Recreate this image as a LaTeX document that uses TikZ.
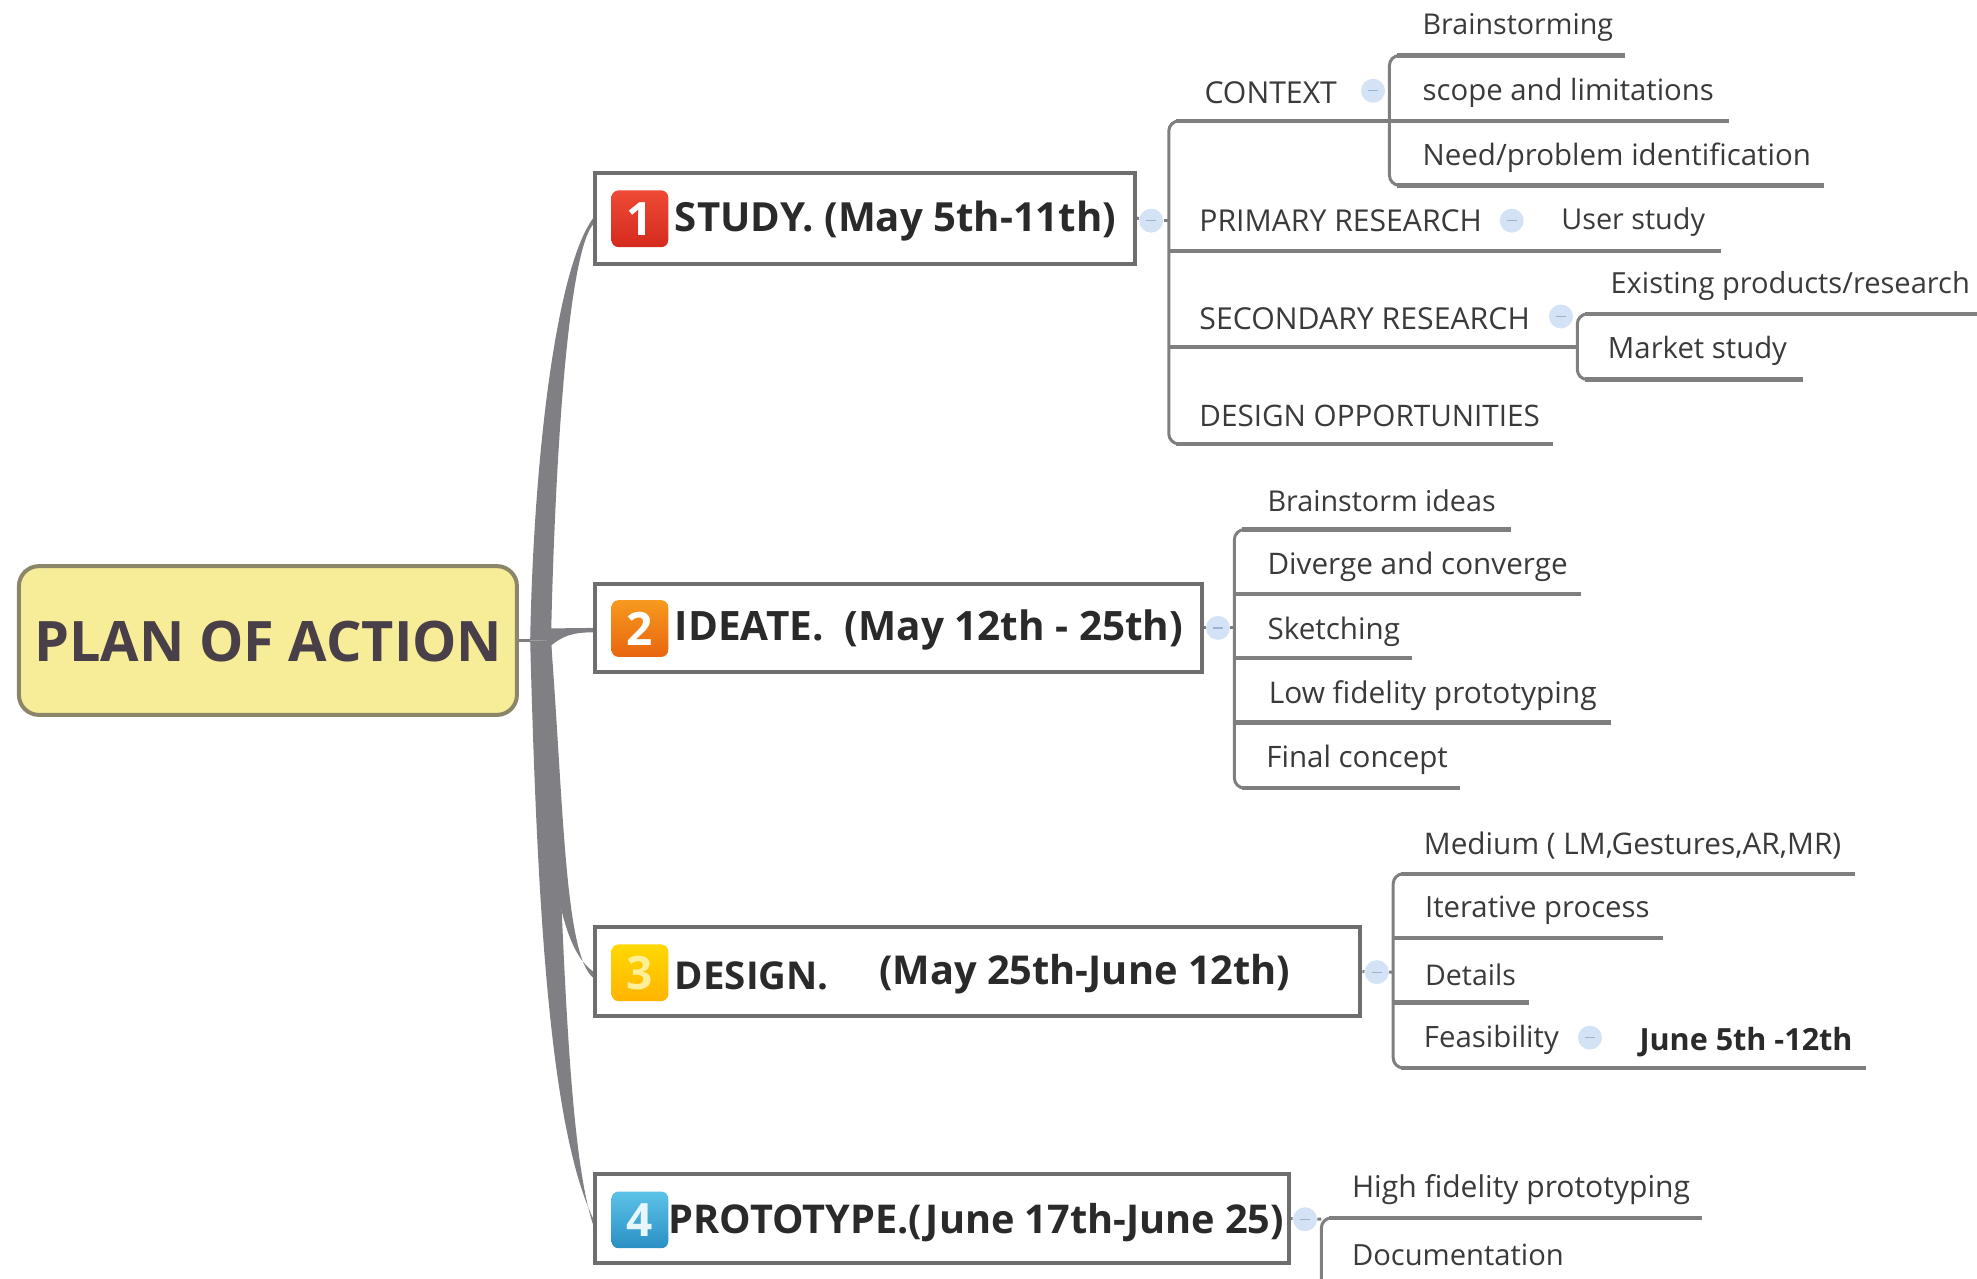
\documentclass[tikz,border=0pt]{standalone}
\usepackage{fontspec}
\usepackage{graphicx}
\setmainfont{Open Sans}
\usetikzlibrary{calc,backgrounds}
\definecolor{linegray}{HTML}{7F7F7F}
\definecolor{boxgray}{HTML}{6E6E6E}
\definecolor{txtgray}{HTML}{3A3A3A}
\definecolor{boldtxt}{HTML}{2A2A2A}
\definecolor{rootfill}{HTML}{F7EC97}
\definecolor{rootedge}{HTML}{8B8569}
\definecolor{rootink}{HTML}{483F48}
\definecolor{dotblue}{HTML}{D3E2F5}
\definecolor{dotminus}{HTML}{9DB4D0}
\definecolor{trunkgray}{HTML}{808084}
\definecolor{redA}{HTML}{EE4A35}\definecolor{redB}{HTML}{D42A1E}
\definecolor{orgA}{HTML}{F79A1E}\definecolor{orgB}{HTML}{E8650F}
\definecolor{yelA}{HTML}{FFD800}\definecolor{yelB}{HTML}{FFB400}
\definecolor{bluA}{HTML}{5CC3E8}\definecolor{bluB}{HTML}{2A8FC4}
\newcommand{\fitto}[2]{\pgfmathsetlengthmacro{\fw}{#1*0.6304pt}\resizebox{\fw}{!}{#2}}
\tikzset{
  rootbox/.style={draw=rootedge,fill=rootfill,line width=2pt,rounded corners=10pt,minimum width=395*0.6304pt,minimum height=118*0.6304pt,inner sep=0},
  stagebox/.style={draw=boxgray,fill=white,line width=2pt,inner sep=0},
  lbl/.style={anchor=base west,inner sep=0,text=txtgray},
  blbl/.style={anchor=base west,inner sep=0,text=boldtxt,font=\bfseries},
  badge/.style={rounded corners=3.5pt,minimum width=45*0.6304pt,minimum height=45*0.6304pt,inner sep=0,text=white,font=\bfseries\fontsize{23}{23}\selectfont},
  collapse/.style={circle,fill=dotblue,minimum size=19*0.6304pt,inner sep=0,
    path picture={\draw[color=dotminus,line width=0.6pt] ($(path picture bounding box.center)+(-4,0)$) -- ($(path picture bounding box.center)+(4,0)$);}},
  bus/.style={draw=linegray,line width=1.5pt,rounded corners=5pt},
  under/.style={draw=linegray,line width=2.2pt},
  trunk/.style={fill=trunkgray,draw=none},
}
\begin{document}
\begin{tikzpicture}[x=0.6304pt,y=-0.6304pt]
\useasboundingbox (0,0) rectangle (1568,1014.4);
% root and stage boxes
\node[rootbox] (root) at (212.5,508) {};
\node[stagebox,minimum width=428*0.6304pt,minimum height=72*0.6304pt] (b1) at (686,173) {};
\node[stagebox,minimum width=481*0.6304pt,minimum height=70*0.6304pt] (b2) at (712.5,498) {};
\node[stagebox,minimum width=607*0.6304pt,minimum height=71*0.6304pt] (b3) at (775.5,770.5) {};
\node[stagebox,minimum width=550*0.6304pt,minimum height=71*0.6304pt] (b4) at (747,966.5) {};
% trunk branches
\coordinate (trL) at (420.5,508);
\coordinate (trM) at (430,508);
\coordinate (trR) at (437,508);
\begin{scope}[on background layer]
\fill[trunk] (trL) .. controls (423,370) and (440,215) .. (b1.west) -- ($(b1.west)+(0,5)$) .. controls (450,202) and (440,370) .. (trR) -- cycle;
\fill[trunk] (trM) .. controls (432,640) and (436,746) .. (b3.west) -- ($(b3.west)+(0,5)$) .. controls (448,757) and (447,640) .. (trR) -- cycle;
\fill[trunk] (trL) .. controls (426,720) and (436,893) .. (b4.west) -- ($(b4.west)+(0,5)$) .. controls (449,907) and (446,720) .. (trR) -- cycle;
\fill[trunk] (430,498.5) -- (b2.west) -- ($(b2.west)+(0,3.5)$) .. controls (455,501.5) and (446,504) .. (436,513) -- cycle;
\draw[draw=linegray,line width=1.4pt] (root.east) -- (trL);
\end{scope}
% root label
\node[anchor=base west,inner sep=0,text=rootink,font=\bfseries] (rootlbl) at (27,525) {\fitto{371}{PLAN OF ACTION}};
% badges
\node[badge,top color=redA,bottom color=redB] (i1) at (507.5,173.5) {1};
\node[badge,top color=orgA,bottom color=orgB] (i2) at (507.5,498.5) {2};
\node[badge,top color=yelA,bottom color=yelB,text=yelA!40!white] (i3) at (507.5,771.5) {3};
\node[badge,top color=bluA,bottom color=bluB,text=white!85!bluA] (i4) at (507.5,967.5) {4};
% stage labels
\node[blbl] (s1) at (535,184) {\fitto{350}{STUDY. (May 5th-11th)}};
\node[blbl] (s2) at (535,508) {\fitto{403}{IDEATE.\ \ (May 12th - 25th)}};
\node[blbl] (s3a) at (535,785) {\fitto{122}{DESIGN.}};
\node[blbl] (s3b) at (697,781) {\fitto{326}{(May 25th-June 12th)}};
\node[blbl] (s4) at (530,978) {\fitto{488}{PROTOTYPE.(June 17th-June 25)}};
% collapse dots
\node[collapse] (c1) at (913,175) {};
\node[collapse] (c2) at (966,498) {};
\node[collapse] (c3) at (1092,771) {};
\node[collapse] (c4) at (1035,967) {};
\node[collapse] (c11) at (1089,72) {};
\node[collapse] (c12) at (1199,175) {};
\node[collapse] (c13) at (1238,251) {};
\node[collapse] (c34) at (1261,823) {};
% study branch
\node[lbl] (ctx) at (955,82) {\fitto{105}{CONTEXT}};
\node[lbl] (pri) at (951,184) {\fitto{224}{PRIMARY RESEARCH}};
\node[lbl] (sec) at (951,261) {\fitto{262}{SECONDARY RESEARCH}};
\node[lbl] (des) at (951,338) {\fitto{270}{DESIGN OPPORTUNITIES}};
\node[lbl] (usr) at (1238,182) {\fitto{114}{User study}};
\node[lbl] (brn) at (1128,27) {\fitto{151}{Brainstorming}};
\node[lbl] (sco) at (1128,80) {\fitto{231}{scope and limitations}};
\node[lbl] (ned) at (1128,131) {\fitto{308}{Need/problem identification}};
\node[lbl] (exi) at (1277,233) {\fitto{285}{Existing products/research}};
\node[lbl] (mkt) at (1275,284) {\fitto{142}{Market study}};
\begin{scope}[on background layer]
\draw[bus] (b1.east) -- (c1);
\draw[bus] (c1) -- (927,175);
\draw[bus] (938,96) -- (927,96) -- (927,352) -- (938,352);
\draw[under] (933,96) -- (1371,96);
\draw[under] (927,199) -- (1365,199);
\draw[under] (927,275) -- (1251,275);
\draw[under] (933,352) -- (1232,352);
\draw[bus] (1113,44) -- (1102,44) -- (1102,147) -- (1113,147);
\draw[under] (1108,44) -- (1289,44);
\draw[under] (1108,147) -- (1447,147);
\draw[bus] (1262,249) -- (1251,249) -- (1251,301) -- (1262,301);
\draw[under] (1257,249) -- (1568,249);
\draw[under] (1257,301) -- (1430,301);
% ideate
\draw[bus] (b2.east) -- (c2) -- (979,498);
\draw[bus] (990,420) -- (979,420) -- (979,625) -- (990,625);
\draw[under] (985,420) -- (1198,420);
\draw[under] (979,471) -- (1254,471);
\draw[under] (979,522) -- (1120,522);
\draw[under] (979,573) -- (1278,573);
\draw[under] (985,625) -- (1158,625);
% design
\draw[bus] (b3.east) -- (c3) -- (1105,771);
\draw[bus] (1116,693) -- (1105,693) -- (1105,847) -- (1116,847);
\draw[under] (1111,693) -- (1471,693);
\draw[under] (1105,744) -- (1319,744);
\draw[under] (1105,795) -- (1213,795);
\draw[under] (1111,847) -- (1480,847);
% prototype
\draw[bus] (b4.east) -- (c4) -- (1048,967);
\draw[bus] (1059,966) -- (1048,966) -- (1048,1020);
\draw[under] (1054,966) -- (1350,966);
\end{scope}
% ideate labels
\node[lbl] (i_a) at (1005,406) {\fitto{181}{Brainstorm ideas}};
\node[lbl] (i_b) at (1005,456) {\fitto{238}{Diverge and converge}};
\node[lbl] (i_c) at (1005,507) {\fitto{105}{Sketching}};
\node[lbl] (i_d) at (1006,558) {\fitto{260}{Low fidelity prototyping}};
\node[lbl] (i_e) at (1004,609) {\fitto{144}{Final concept}};
% design labels
\node[lbl] (d_a) at (1129,678) {\fitto{331}{Medium ( LM,Gestures,AR,MR)}};
\node[lbl] (d_b) at (1130,728) {\fitto{178}{Iterative process}};
\node[lbl] (d_c) at (1130,782) {\fitto{72}{Details}};
\node[lbl] (d_d) at (1129,831) {\fitto{107}{Feasibility}};
\node[lbl,font=\bfseries,text=boldtxt] (d_e) at (1300,833) {\fitto{169}{June 5th -12th}};
% prototype labels
\node[lbl] (p_a) at (1072,950) {\fitto{268}{High fidelity prototyping}};
\node[lbl] (p_b) at (1072,1004) {\fitto{168}{Documentation}};
\end{tikzpicture}
\end{document}
